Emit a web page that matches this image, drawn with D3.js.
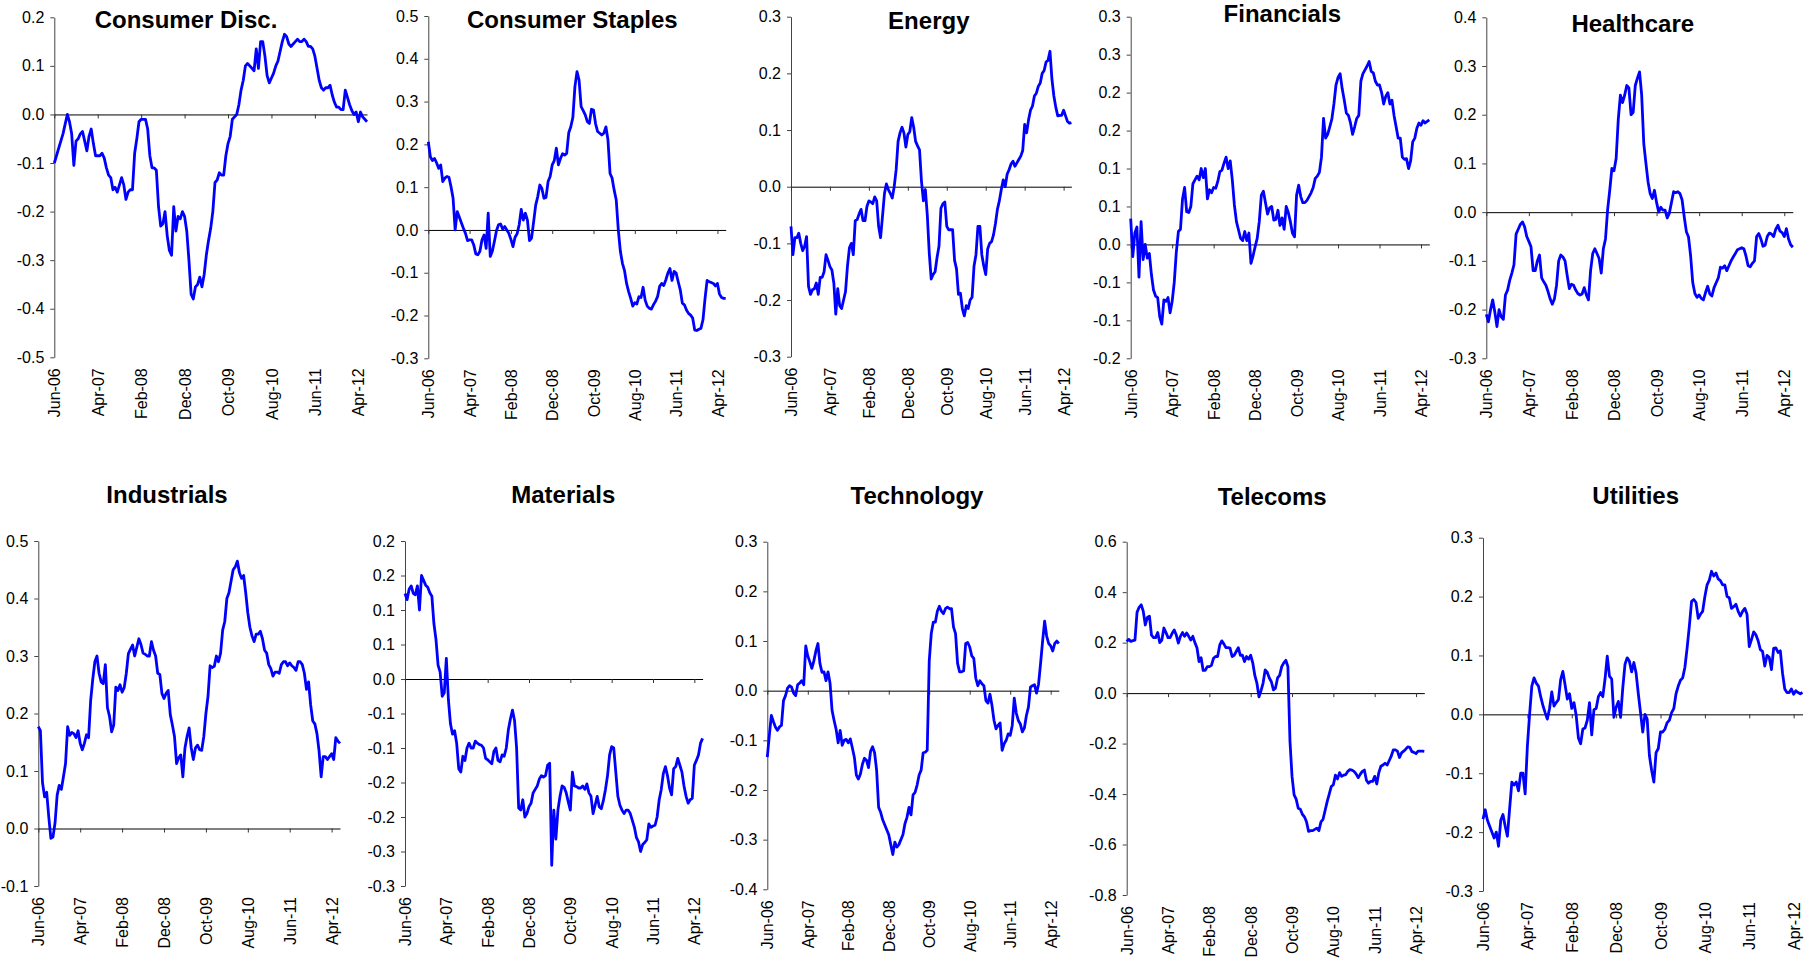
<!DOCTYPE html>
<html><head><meta charset="utf-8">
<script src="https://cdn.jsdelivr.net/npm/d3@7"></script>
<style>
html,body{margin:0;padding:0;background:#fff;}
svg{display:block;font-family:"Liberation Sans",Arial,Helvetica,sans-serif;}
</style>
</head><body>
<svg id="chart" width="1814" height="960"></svg>
<script>
// ---- categories / tick labels ----
const sectorNames = ["Consumer Disc.","Consumer Staples","Energy","Financials","Healthcare",
                     "Industrials","Materials","Technology","Telecoms","Utilities"];
const xTickMonths = [0,10,20,30,40,50,60,70];           // months after Jun-06
const xTickLabels = ["Jun-06","Apr-07","Feb-08","Dec-08","Oct-09","Aug-10","Jun-11","Apr-12"];
const yMins  = [-0.5,-0.3,-0.3,-0.15,-0.3,-0.1,-0.3,-0.4,-0.8,-0.3];
const yMaxs  = [ 0.2, 0.5, 0.3, 0.30, 0.4, 0.5, 0.2, 0.3, 0.6, 0.3];
const ySteps = [ 0.1, 0.1, 0.1, 0.05, 0.1, 0.1, 0.05,0.1, 0.2, 0.1];

// ---- series values: half-monthly readings, Jun-06 .. Jun-12 ----
const consumerDisc = [-0.10,-0.085,-0.07,-0.055,-0.04,-0.02,0.0,-0.015,-0.04,-0.105,
 -0.055,-0.05,-0.04,-0.035,-0.055,-0.075,-0.045,-0.03,-0.06,-0.085,
 -0.085,-0.085,-0.08,-0.09,-0.11,-0.125,-0.13,-0.155,-0.15,-0.16,
 -0.145,-0.13,-0.145,-0.175,-0.16,-0.155,-0.155,-0.08,-0.05,-0.015,
 -0.01,-0.01,-0.01,-0.03,-0.085,-0.11,-0.11,-0.115,-0.19,-0.23,
 -0.225,-0.2,-0.25,-0.28,-0.29,-0.19,-0.24,-0.21,-0.215,-0.2,
 -0.21,-0.24,-0.3,-0.37,-0.38,-0.355,-0.35,-0.335,-0.355,-0.33,
 -0.29,-0.26,-0.235,-0.2,-0.14,-0.135,-0.12,-0.125,-0.125,-0.085,
 -0.06,-0.045,-0.01,-0.005,0.0,0.02,0.05,0.07,0.1,0.105,
 0.1,0.095,0.09,0.135,0.095,0.15,0.15,0.12,0.08,0.065,
 0.075,0.085,0.1,0.11,0.13,0.15,0.165,0.16,0.145,0.14,
 0.145,0.15,0.155,0.15,0.15,0.155,0.15,0.14,0.14,0.135,
 0.12,0.095,0.07,0.055,0.05,0.055,0.055,0.06,0.04,0.025,
 0.015,0.015,0.01,0.01,0.05,0.035,0.02,0.008,0.0,0.005,
 -0.015,0.005,-0.005,-0.01,-0.015];
const consumerStaples = [0.206,0.171,0.162,0.167,0.157,0.144,0.152,0.113,0.121,0.125,
 0.123,0.101,0.074,0.0,0.043,0.03,0.017,0.004,-0.008,-0.025,
 -0.023,-0.023,-0.035,-0.056,-0.058,-0.05,-0.023,-0.012,-0.043,0.039,
 -0.062,-0.05,-0.027,-0.002,0.012,0.014,0.002,0.008,0.0,-0.008,
 -0.022,-0.039,-0.017,-0.009,0.012,0.048,0.023,0.039,0.023,-0.025,
 -0.019,0.019,0.058,0.078,0.105,0.097,0.074,0.076,0.113,0.125,
 0.152,0.162,0.191,0.152,0.167,0.178,0.175,0.179,0.227,0.241,
 0.263,0.335,0.37,0.35,0.288,0.279,0.269,0.253,0.249,0.282,
 0.28,0.248,0.23,0.226,0.222,0.226,0.241,0.21,0.132,0.121,
 0.093,0.07,0.0,-0.05,-0.078,-0.095,-0.125,-0.144,-0.16,-0.178,
 -0.17,-0.173,-0.156,-0.158,-0.134,-0.164,-0.178,-0.183,-0.185,-0.175,
 -0.167,-0.156,-0.132,-0.125,-0.13,-0.117,-0.101,-0.09,-0.118,-0.097,
 -0.101,-0.121,-0.14,-0.171,-0.175,-0.187,-0.195,-0.199,-0.206,-0.234,
 -0.235,-0.232,-0.23,-0.21,-0.16,-0.118,-0.121,-0.123,-0.125,-0.131,
 -0.125,-0.15,-0.158,-0.16,-0.16];
const energy = [-0.07,-0.12,-0.09,-0.09,-0.082,-0.1,-0.113,-0.105,-0.088,-0.176,
 -0.19,-0.182,-0.18,-0.17,-0.19,-0.16,-0.16,-0.15,-0.12,-0.13,
 -0.141,-0.147,-0.17,-0.225,-0.18,-0.21,-0.215,-0.2,-0.185,-0.14,
 -0.108,-0.1,-0.12,-0.06,-0.058,-0.048,-0.04,-0.06,-0.06,-0.035,
 -0.025,-0.027,-0.03,-0.018,-0.025,-0.07,-0.09,-0.052,-0.012,0.005,
 -0.005,-0.012,-0.02,0.0,0.03,0.08,0.095,0.105,0.095,0.07,
 0.092,0.097,0.122,0.105,0.08,0.072,0.065,0.01,-0.025,-0.005,
 -0.05,-0.117,-0.163,-0.155,-0.15,-0.125,-0.105,-0.038,-0.03,-0.027,
 -0.07,-0.076,-0.076,-0.076,-0.13,-0.145,-0.19,-0.188,-0.215,-0.228,
 -0.21,-0.215,-0.2,-0.195,-0.14,-0.12,-0.07,-0.07,-0.12,-0.14,
 -0.155,-0.11,-0.1,-0.097,-0.085,-0.065,-0.04,-0.025,-0.005,0.012,
 0.0,0.022,0.03,0.04,0.045,0.036,0.042,0.048,0.054,0.064,
 0.11,0.095,0.118,0.135,0.142,0.16,0.165,0.177,0.183,0.2,
 0.205,0.22,0.223,0.239,0.19,0.16,0.14,0.125,0.126,0.126,
 0.135,0.125,0.115,0.112,0.113];
const financials = [0.034,-0.016,0.015,0.023,-0.043,0.03,-0.02,0.0,-0.018,-0.012,
 -0.04,-0.06,-0.068,-0.07,-0.095,-0.105,-0.073,-0.075,-0.07,-0.09,
 -0.075,-0.05,-0.01,0.017,0.02,0.06,0.075,0.043,0.042,0.05,
 0.08,0.085,0.09,0.085,0.1,0.088,0.1,0.06,0.072,0.068,
 0.075,0.074,0.083,0.096,0.098,0.107,0.115,0.1,0.11,0.085,
 0.052,0.03,0.019,0.008,0.005,0.017,0.005,0.015,-0.025,-0.015,
 -0.003,0.008,0.03,0.065,0.07,0.055,0.04,0.048,0.05,0.032,
 0.033,0.045,0.025,0.035,0.02,0.05,0.042,0.03,0.015,0.01,
 0.065,0.078,0.063,0.055,0.055,0.058,0.063,0.068,0.075,0.087,
 0.09,0.095,0.115,0.166,0.14,0.145,0.155,0.165,0.185,0.21,
 0.22,0.225,0.205,0.19,0.173,0.17,0.16,0.145,0.155,0.166,
 0.17,0.215,0.225,0.23,0.235,0.241,0.228,0.226,0.215,0.21,
 0.21,0.2,0.185,0.195,0.2,0.185,0.19,0.17,0.155,0.14,
 0.14,0.115,0.112,0.113,0.1,0.11,0.135,0.14,0.153,0.16,
 0.157,0.163,0.16,0.162,0.164];
const healthcare = [-0.21,-0.225,-0.2,-0.18,-0.205,-0.235,-0.2,-0.215,-0.22,-0.17,
 -0.16,-0.14,-0.125,-0.108,-0.045,-0.035,-0.025,-0.02,-0.03,-0.05,
 -0.06,-0.071,-0.12,-0.12,-0.1,-0.088,-0.135,-0.143,-0.15,-0.163,
 -0.178,-0.189,-0.178,-0.15,-0.1,-0.088,-0.092,-0.1,-0.13,-0.157,
 -0.148,-0.15,-0.16,-0.167,-0.17,-0.168,-0.155,-0.17,-0.18,-0.12,
 -0.085,-0.075,-0.085,-0.095,-0.125,-0.075,-0.055,0.005,0.045,0.09,
 0.085,0.11,0.19,0.24,0.225,0.24,0.26,0.255,0.2,0.205,
 0.26,0.275,0.288,0.24,0.14,0.1,0.062,0.038,0.028,0.045,
 0.02,0.0,0.01,0.004,0.004,-0.012,-0.002,0.02,0.042,0.04,
 0.042,0.038,0.025,-0.01,-0.04,-0.051,-0.09,-0.145,-0.167,-0.175,
 -0.17,-0.177,-0.18,-0.165,-0.152,-0.168,-0.172,-0.155,-0.145,-0.135,
 -0.113,-0.115,-0.11,-0.12,-0.11,-0.1,-0.092,-0.085,-0.077,-0.075,
 -0.073,-0.075,-0.09,-0.11,-0.112,-0.105,-0.1,-0.05,-0.044,-0.055,
 -0.07,-0.068,-0.05,-0.043,-0.045,-0.05,-0.035,-0.027,-0.039,-0.042,
 -0.05,-0.034,-0.055,-0.067,-0.072];
const industrials = [0.177,0.17,0.08,0.055,0.063,0.02,-0.017,-0.015,0.01,0.058,
 0.075,0.068,0.09,0.113,0.177,0.162,0.167,0.165,0.158,0.17,
 0.148,0.137,0.148,0.163,0.158,0.223,0.26,0.29,0.3,0.27,
 0.255,0.252,0.285,0.21,0.195,0.168,0.18,0.246,0.24,0.25,
 0.237,0.245,0.27,0.304,0.312,0.319,0.3,0.315,0.33,0.32,
 0.305,0.303,0.3,0.3,0.325,0.31,0.3,0.27,0.268,0.235,
 0.226,0.235,0.24,0.198,0.18,0.16,0.113,0.123,0.128,0.09,
 0.14,0.16,0.175,0.14,0.12,0.14,0.145,0.137,0.136,0.16,
 0.2,0.23,0.283,0.28,0.282,0.3,0.29,0.305,0.345,0.36,
 0.4,0.41,0.43,0.45,0.455,0.465,0.445,0.435,0.44,0.41,
 0.375,0.35,0.335,0.325,0.338,0.338,0.343,0.33,0.31,0.305,
 0.285,0.278,0.265,0.272,0.272,0.27,0.285,0.29,0.29,0.283,
 0.288,0.283,0.28,0.275,0.29,0.29,0.285,0.27,0.242,0.255,
 0.215,0.187,0.182,0.165,0.135,0.09,0.125,0.125,0.12,0.125,
 0.13,0.12,0.158,0.152,0.148];
const materials = [0.124,0.115,0.13,0.135,0.124,0.122,0.135,0.1,0.15,0.143,
 0.136,0.133,0.125,0.12,0.08,0.057,0.02,0.01,-0.025,-0.02,
 0.03,-0.03,-0.065,-0.08,-0.075,-0.093,-0.13,-0.135,-0.112,-0.118,
 -0.1,-0.093,-0.1,-0.1,-0.09,-0.093,-0.095,-0.096,-0.1,-0.115,
 -0.117,-0.12,-0.123,-0.105,-0.1,-0.118,-0.12,-0.11,-0.112,-0.1,
 -0.074,-0.058,-0.045,-0.06,-0.1,-0.187,-0.19,-0.175,-0.2,-0.195,
 -0.185,-0.18,-0.165,-0.16,-0.155,-0.145,-0.14,-0.142,-0.14,-0.125,
 -0.122,-0.27,-0.19,-0.232,-0.19,-0.17,-0.155,-0.157,-0.165,-0.178,
 -0.19,-0.135,-0.155,-0.156,-0.158,-0.158,-0.155,-0.16,-0.152,-0.165,
 -0.17,-0.195,-0.183,-0.17,-0.185,-0.188,-0.176,-0.16,-0.14,-0.11,
 -0.098,-0.1,-0.135,-0.17,-0.183,-0.19,-0.195,-0.19,-0.19,-0.195,
 -0.205,-0.215,-0.23,-0.236,-0.25,-0.24,-0.237,-0.233,-0.21,-0.215,
 -0.213,-0.212,-0.2,-0.175,-0.16,-0.137,-0.127,-0.14,-0.158,-0.168,
 -0.13,-0.127,-0.115,-0.125,-0.135,-0.155,-0.17,-0.18,-0.175,-0.173,
 -0.125,-0.118,-0.11,-0.093,-0.086];
const technology = [-0.134,-0.09,-0.05,-0.062,-0.073,-0.08,-0.073,-0.07,-0.02,-0.01,
 0.005,0.01,0.007,-0.005,-0.01,0.012,0.015,0.02,0.012,0.09,
 0.07,0.058,0.045,0.06,0.08,0.095,0.055,0.037,0.038,0.02,
 0.038,0.015,-0.04,-0.06,-0.078,-0.105,-0.08,-0.11,-0.1,-0.098,
 -0.105,-0.097,-0.115,-0.134,-0.17,-0.178,-0.168,-0.148,-0.136,-0.14,
 -0.155,-0.122,-0.113,-0.125,-0.16,-0.235,-0.245,-0.26,-0.27,-0.28,
 -0.29,-0.31,-0.33,-0.305,-0.315,-0.31,-0.3,-0.29,-0.268,-0.255,
 -0.235,-0.25,-0.21,-0.205,-0.19,-0.17,-0.16,-0.125,-0.124,-0.12,
 0.06,0.115,0.138,0.138,0.16,0.17,0.16,0.155,0.165,0.168,
 0.165,0.165,0.128,0.115,0.055,0.038,0.038,0.04,0.095,0.097,
 0.088,0.07,0.065,0.025,0.01,0.02,0.014,0.01,-0.02,-0.025,
 -0.007,-0.03,-0.06,-0.077,-0.07,-0.065,-0.12,-0.107,-0.1,-0.087,
 -0.09,-0.07,-0.015,-0.045,-0.06,-0.067,-0.083,-0.075,-0.05,-0.033,
 0.007,0.01,0.012,-0.005,0.013,0.055,0.1,0.14,0.11,0.095,
 0.09,0.08,0.095,0.1,0.095];
const telecoms = [0.205,0.213,0.205,0.208,0.21,0.32,0.34,0.35,0.325,0.27,
 0.3,0.305,0.23,0.22,0.22,0.24,0.2,0.21,0.258,0.24,
 0.22,0.22,0.237,0.25,0.23,0.198,0.225,0.24,0.225,0.238,
 0.225,0.21,0.225,0.2,0.18,0.125,0.14,0.09,0.09,0.105,
 0.105,0.11,0.138,0.145,0.145,0.19,0.207,0.195,0.18,0.18,
 0.178,0.145,0.15,0.165,0.18,0.15,0.15,0.125,0.145,0.135,
 0.15,0.12,0.07,0.04,-0.015,0.01,0.04,0.092,0.083,0.06,
 0.045,0.013,0.02,0.06,0.07,0.105,0.12,0.13,0.105,-0.19,
 -0.33,-0.403,-0.42,-0.456,-0.46,-0.48,-0.49,-0.51,-0.548,-0.545,
 -0.545,-0.54,-0.535,-0.545,-0.51,-0.5,-0.465,-0.43,-0.4,-0.37,
 -0.363,-0.325,-0.34,-0.315,-0.33,-0.325,-0.323,-0.31,-0.303,-0.305,
 -0.31,-0.32,-0.335,-0.322,-0.31,-0.305,-0.345,-0.357,-0.35,-0.35,
 -0.33,-0.36,-0.315,-0.29,-0.285,-0.278,-0.285,-0.268,-0.25,-0.225,
 -0.225,-0.23,-0.255,-0.237,-0.23,-0.222,-0.213,-0.215,-0.232,-0.235,
 -0.24,-0.23,-0.23,-0.23,-0.231];
const utilities = [-0.178,-0.162,-0.18,-0.19,-0.2,-0.21,-0.2,-0.224,-0.18,-0.17,
 -0.19,-0.207,-0.16,-0.115,-0.12,-0.115,-0.13,-0.1,-0.1,-0.135,
 -0.054,0.0,0.048,0.062,0.053,0.048,0.03,0.015,0.003,-0.008,
 0.01,0.038,0.014,0.02,0.025,0.059,0.073,0.05,0.026,0.035,
 0.01,0.02,-0.002,-0.04,-0.05,-0.025,-0.023,-0.01,0.02,-0.035,
 0.008,0.01,0.03,0.037,0.03,0.06,0.099,0.065,0.06,-0.005,
 0.012,0.022,-0.005,0.045,0.085,0.096,0.09,0.072,0.088,0.07,
 0.035,0.003,-0.03,0.0,-0.008,-0.07,-0.095,-0.115,-0.065,-0.058,
 -0.03,-0.03,-0.025,-0.014,-0.01,0.003,0.01,0.035,0.048,0.058,
 0.062,0.08,0.113,0.15,0.192,0.195,0.19,0.163,0.17,0.175,
 0.2,0.22,0.228,0.243,0.235,0.24,0.23,0.227,0.22,0.22,
 0.2,0.198,0.18,0.183,0.187,0.175,0.167,0.175,0.18,0.17,
 0.115,0.127,0.14,0.135,0.125,0.11,0.107,0.082,0.1,0.097,
 0.076,0.112,0.113,0.105,0.108,0.07,0.043,0.037,0.037,0.043,
 0.034,0.04,0.037,0.035,0.037];

const series = [consumerDisc, consumerStaples, energy, financials, healthcare,
                industrials, materials, technology, telecoms, utilities];

// ---- panel placement (pixels) ----
const layout = [
 {x0:54.3,   x1:367,    yT:17.3,  yB:357.3, tx:186,    ty:28.3},
 {x0:428.3,  x1:725.7,  yT:16,    yB:358.3, tx:572.3,  ty:28.3},
 {x0:791,    x1:1071.4, yT:16.7,  yB:356.7, tx:928.8,  ty:29.3},
 {x0:1130.7, x1:1429.3, yT:16.7,  yB:358.3, tx:1282.3, ty:21.7},
 {x0:1486.3, x1:1792.8, yT:17.3,  yB:358.3, tx:1632.8, ty:31.7},
 {x0:38.3,   x1:340,    yT:541,   yB:886,   tx:167,    ty:502.7},
 {x0:405,    x1:702.6,  yT:541,   yB:886,   tx:563.3,  ty:502.7},
 {x0:767.3,  x1:1058.8, yT:541.7, yB:889.3, tx:917,    ty:504},
 {x0:1126.7, x1:1424.3, yT:541.7, yB:895,   tx:1272.2, ty:505},
 {x0:1483,   x1:1802.5, yT:537.7, yB:891,   tx:1635.7, ty:504}
];

const svg = d3.select("#chart");
const fmt = v => {
  const r = Math.round(Math.abs(v) * 10 + 1e-6) / 10;
  if (r === 0) return "0.0";
  return (v < 0 ? "-" : "") + r.toFixed(1);
};

series.forEach((vals, k) => {
  const L = layout[k];
  const x = d3.scaleLinear().domain([0, 72]).range([L.x0, L.x1]);
  const y = d3.scaleLinear().domain([yMins[k], yMaxs[k]]).range([L.yB, L.yT]);
  const nT = Math.round((yMaxs[k] - yMins[k]) / ySteps[k]);
  const yTicks = d3.range(nT + 1).map(j => yMins[k] + j * ySteps[k]);
  const g = svg.append("g");

  // y axis
  const ya = g.append("g").attr("transform", `translate(${L.x0},0)`)
    .call(d3.axisLeft(y).tickValues(yTicks).tickFormat(fmt).tickSize(4).tickSizeOuter(0).tickPadding(6));
  ya.select(".domain").attr("stroke", "#444").attr("stroke-width", 1);
  ya.selectAll(".tick line").attr("stroke", "#444");
  ya.selectAll("text").attr("fill", "#000").style("font-size", "16px")
    .style("font-family", '"Liberation Sans",Arial,sans-serif');

  // zero line with tick marks
  const za = g.append("g").attr("transform", `translate(0,${y(0)})`)
    .call(d3.axisBottom(x).tickValues(xTickMonths).tickFormat("").tickSize(4).tickSizeOuter(0));
  za.select(".domain").attr("stroke", "#000").attr("stroke-width", 1);
  za.selectAll(".tick line").attr("stroke", "#333");

  // date labels at bottom
  const la = g.append("g").attr("transform", `translate(0,${L.yB + 11})`)
    .call(d3.axisBottom(x).tickValues(xTickMonths).tickFormat((d, i) => xTickLabels[i]).tickSize(0));
  la.select(".domain").remove();
  la.selectAll("text")
    .attr("x", 0).attr("y", 0).attr("dy", "0.35em")
    .attr("transform", "rotate(-90)")
    .style("text-anchor", "end")
    .attr("fill", "#000").style("font-size", "16px")
    .style("font-family", '"Liberation Sans",Arial,sans-serif');

  // series line
  g.append("path").datum(vals)
    .attr("fill", "none").attr("stroke", "#0000FF").attr("stroke-width", 2.8)
    .attr("stroke-linejoin", "round")
    .attr("d", d3.line().x((d, i) => x(i / 2)).y(d => y(d)));

  // title
  g.append("text").attr("x", L.tx).attr("y", L.ty)
    .attr("text-anchor", "middle").attr("font-weight", "bold")
    .style("font-size", "24px").attr("fill", "#000")
    .text(sectorNames[k]);
});
</script>
</body></html>
